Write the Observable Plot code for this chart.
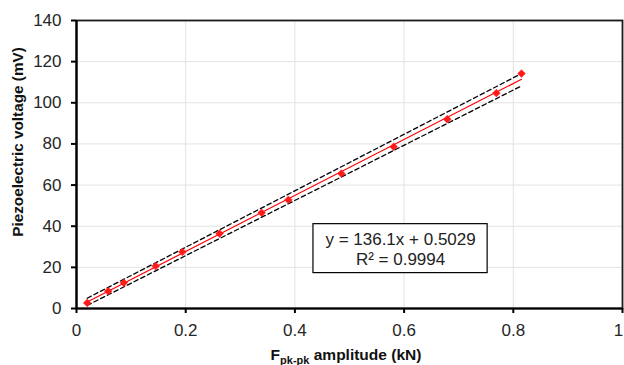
<!DOCTYPE html>
<html>
<head>
<meta charset="utf-8">
<script src="https://cdn.jsdelivr.net/npm/d3@7"></script>
<script src="https://cdn.jsdelivr.net/npm/@observablehq/plot@0.6"></script>
<style>
  html, body { margin: 0; padding: 0; background: white; }
  #chart svg { display: block; }
</style>
</head>
<body>
<div id="chart"></div>
<script>
// Measured data (F pk-pk amplitude in kN, piezoelectric voltage in mV)
const forceKN = [0.0196, 0.058, 0.0867, 0.145, 0.194, 0.262, 0.339, 0.388, 0.485, 0.581, 0.679, 0.769, 0.815];
const voltageMV = [2.7, 8.4, 12.5, 20.6, 27.5, 36.4, 46.5, 52.8, 65.6, 78.6, 92.0, 104.7, 114.2];

// Linear trendline
const fitSlope = 136.1;
const fitIntercept = 0.5029;
const fitR2 = 0.9994;

// Dashed bounds (endpoints at data range)
const boundX = [0.0196, 0.815];
const upperBound = [5.0, 114.2];
const lowerBound = [1.5, 108.2];

// Axis ticks
const xTicks = [0, 0.2, 0.4, 0.6, 0.8, 1];
const yTicks = [0, 20, 40, 60, 80, 100, 120, 140];

// Equation box (data units)
const eqBox = {x1: 0.434, x2: 0.753, y1: 17.2, y2: 41, cx: 0.5935, cy: 29.1};

const points = forceKN.map((x, i) => ({x, y: voltageMV[i]}));
const xMin = d3.min(forceKN), xMax = d3.max(forceKN);
const fitLine = [xMin, xMax].map(x => ({x, y: fitSlope * x + fitIntercept}));
const upperLine = boundX.map((x, i) => ({x, y: upperBound[i]}));
const lowerLine = boundX.map((x, i) => ({x, y: lowerBound[i]}));

const font = "'Liberation Sans', Arial, Helvetica, sans-serif";

const chart = Plot.plot({
  width: 624,
  height: 365,
  marginLeft: 76,
  marginRight: 2,
  marginTop: 20,
  marginBottom: 57,
  x: {domain: [0, 1]},
  y: {domain: [0, 140]},
  style: {fontFamily: font, fontSize: "17px", color: "#262626", background: "white", overflow: "visible"},
  marks: [
    Plot.gridX(xTicks.slice(1, -1), {stroke: "#e2e2e2", strokeOpacity: 1, strokeWidth: 1}),
    Plot.gridY(yTicks.slice(1, -1), {stroke: "#e2e2e2", strokeOpacity: 1, strokeWidth: 1}),
    Plot.line(upperLine, {x: "x", y: "y", stroke: "black", strokeWidth: 1.3, strokeDasharray: "4.5,3"}),
    Plot.line(lowerLine, {x: "x", y: "y", stroke: "black", strokeWidth: 1.3, strokeDasharray: "4.5,3"}),
    Plot.line(fitLine, {x: "x", y: "y", stroke: "#ff0000", strokeWidth: 1.2}),
    Plot.dot(points, {x: "x", y: "y", symbol: "diamond2", r: 3.5, fill: "#ff1a1a", stroke: "#ff1a1a", strokeWidth: 0.5}),
    Plot.rect([eqBox], {x1: "x1", x2: "x2", y1: "y1", y2: "y2", fill: "white", stroke: "black", strokeWidth: 1.2}),
    Plot.text([eqBox], {x: "cx", y: "cy", text: () => `y = ${fitSlope}x + ${fitIntercept}\nR² = ${fitR2}`,
      fontSize: 17, lineHeight: 1.18, fill: "#222", fontFamily: font}),
    Plot.frame({stroke: "#1a1a1a", strokeWidth: 1.8}),
    Plot.ruleX([0], {stroke: "black", strokeWidth: 2.2}),
    Plot.ruleY([0], {stroke: "black", strokeWidth: 2.2}),
    Plot.axisX(xTicks, {tickSize: 5, tickPadding: 10, tickFormat: d => String(d), label: null, strokeWidth: 2, stroke: "black"}),
    Plot.axisY(yTicks, {tickSize: 5, tickPadding: 10, tickFormat: d => String(d), label: null, strokeWidth: 2, stroke: "black"})
  ]
});

const svg = d3.select(chart);
// keep the last x tick label inside the picture
const xLabels = svg.selectAll('g[aria-label="x-axis tick label"] text');
d3.select(xLabels.nodes()[xLabels.size() - 1]).attr("dx", -4);

// Y axis title
svg.append("text")
  .attr("transform", "translate(23,142) rotate(-90)")
  .attr("text-anchor", "middle")
  .attr("font-family", font)
  .attr("font-weight", "bold")
  .attr("font-size", 15.3)
  .attr("fill", "#111")
  .text("Piezoelectric voltage (mV)");
// X axis title with subscript
const xt = svg.append("text")
  .attr("x", 346)
  .attr("y", 359.5)
  .attr("text-anchor", "middle")
  .attr("font-family", font)
  .attr("font-weight", "bold")
  .attr("font-size", 15.5)
  .attr("fill", "#111");
xt.append("tspan").text("F");
xt.append("tspan").attr("font-size", 11).attr("dy", 4).text("pk-pk");
xt.append("tspan").attr("dy", -4).text(" amplitude (kN)");

document.getElementById("chart").appendChild(chart);
</script>
</body>
</html>
